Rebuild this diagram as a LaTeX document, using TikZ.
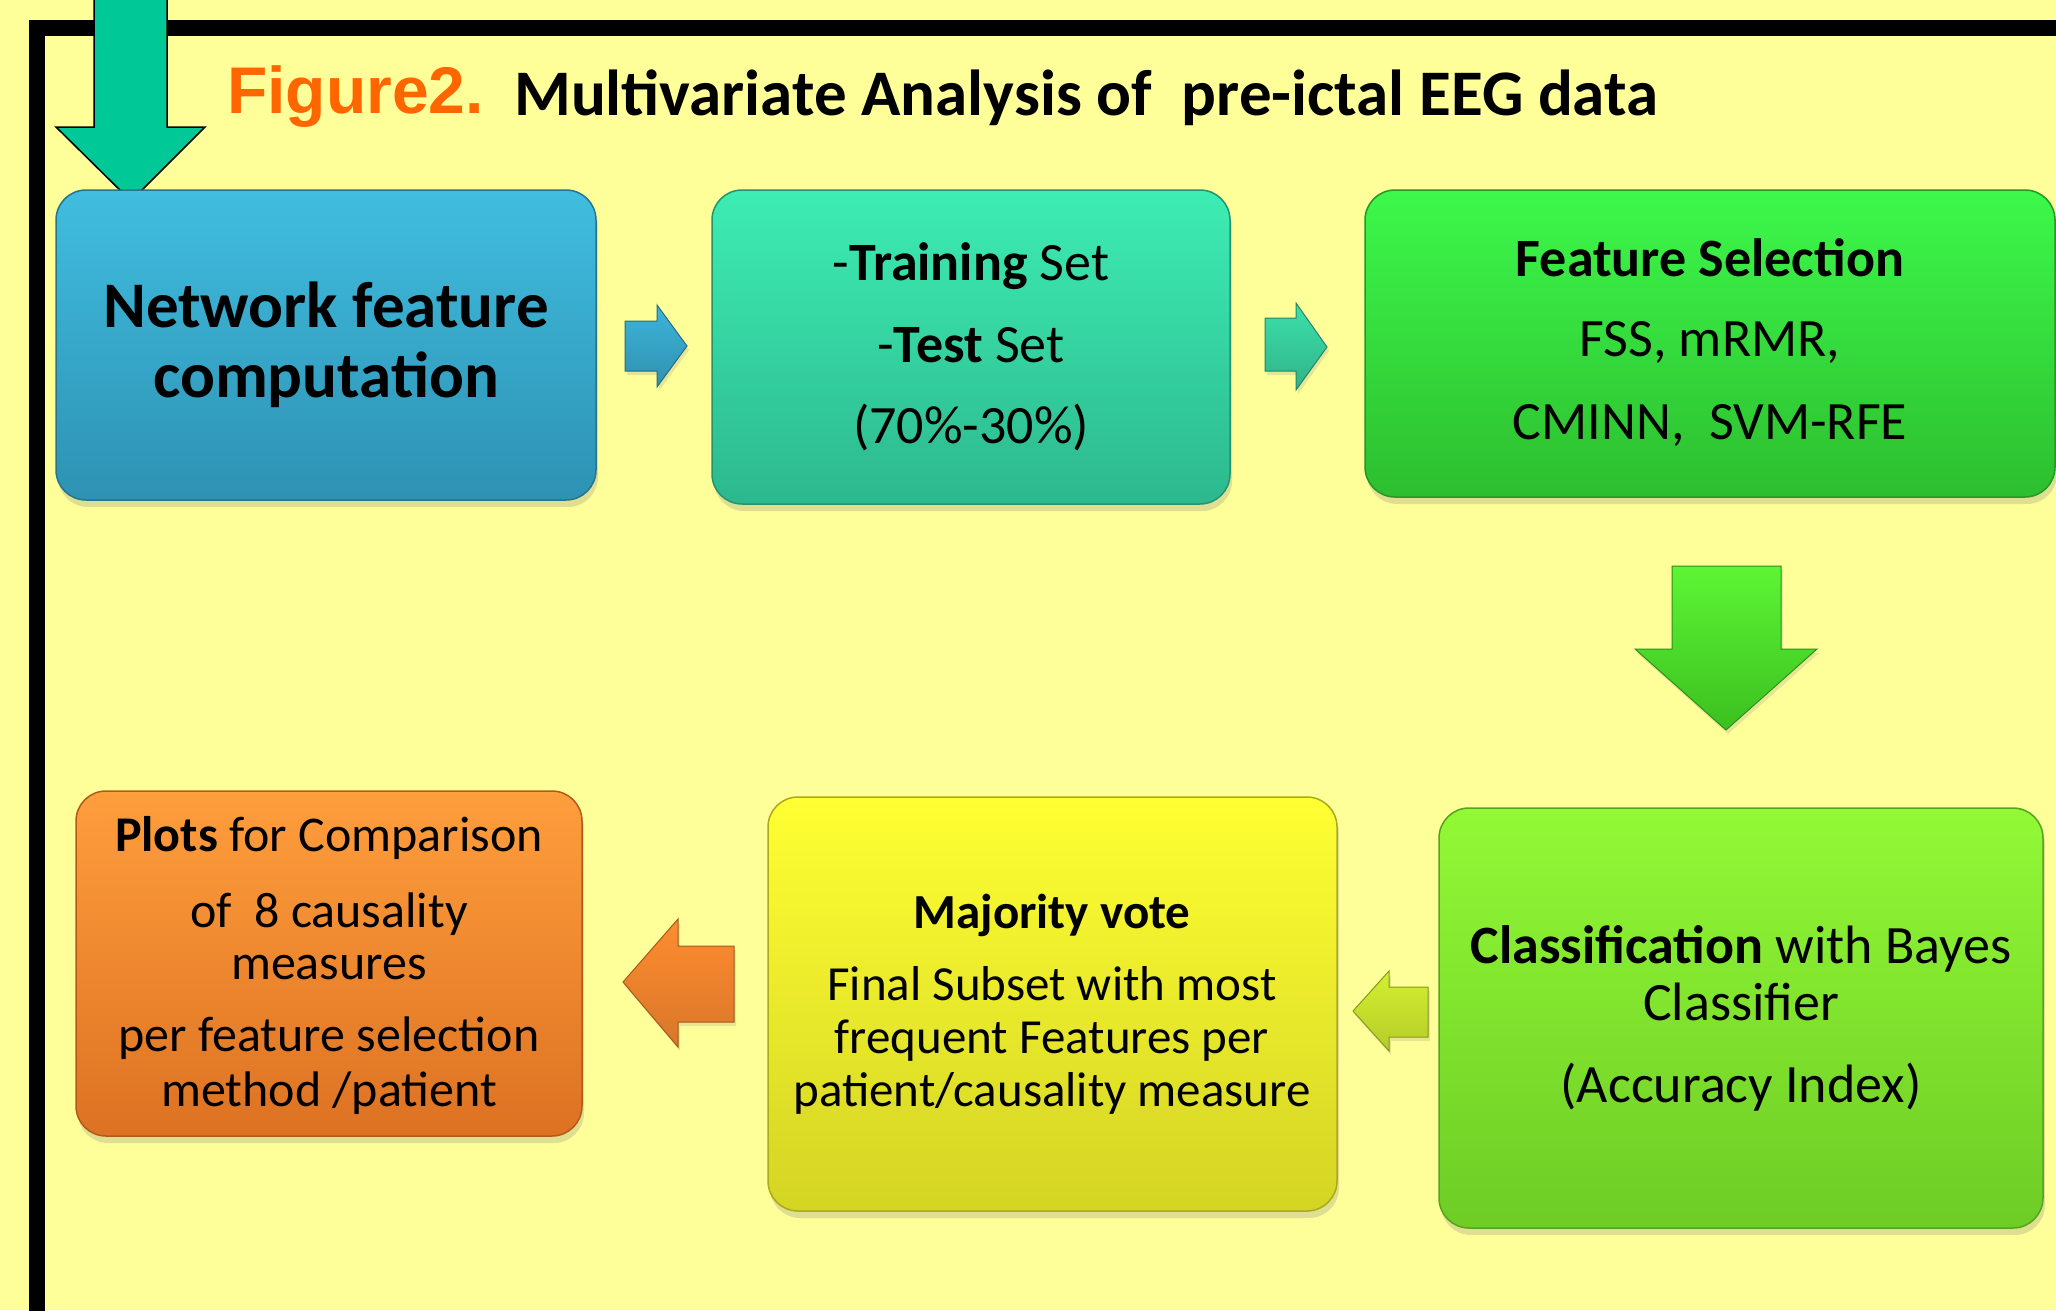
\documentclass[tikz,border=0pt]{standalone}
\usepackage{fontspec}
\usetikzlibrary{shadows}
\newfontfamily\calfont{Carlito}
\newfontfamily\arlfont{Liberation Sans}
\definecolor{bg}{HTML}{FFFF99}
\definecolor{figorange}{HTML}{FF6600}
\definecolor{bigarrow}{HTML}{00C896}
\definecolor{b1t}{HTML}{40BDE0}\definecolor{b1b}{HTML}{2E92B3}
\definecolor{b2t}{HTML}{3DEDB2}\definecolor{b2b}{HTML}{2DB88E}
\definecolor{b3t}{HTML}{3DF84A}\definecolor{b3b}{HTML}{2DBE2F}
\definecolor{b5t}{HTML}{92F936}\definecolor{b5b}{HTML}{6ECC25}
\definecolor{b4t}{HTML}{FFFF33}\definecolor{b4b}{HTML}{D4D424}
\definecolor{b6t}{HTML}{FF9E3D}\definecolor{b6b}{HTML}{DD7222}
\definecolor{a1c}{HTML}{3CB5DA}\definecolor{a2c}{HTML}{3CE0AA}
\definecolor{a3t}{HTML}{5DF535}\definecolor{a3b}{HTML}{3CC020}
\definecolor{a4c}{HTML}{D4F030}\definecolor{a5c}{HTML}{FF8C30}
\tikzset{
  box/.style 2 args={rounded corners=30pt, top color=#1, bottom color=#2,
    draw=#2!80!black, line width=1.5pt, inner sep=0pt,
    drop shadow={shadow xshift=2pt, shadow yshift=-7pt, opacity=0.25}},
  txt/.style={anchor=base, inner sep=0pt, text=black},
  blockarrow/.style 2 args={top color=#1, bottom color=#2, draw=#2!75!black, line width=1pt,
    drop shadow={shadow xshift=2pt, shadow yshift=-4pt, opacity=0.2}},
}
\begin{document}
\begin{tikzpicture}[x=1pt,y=-1pt]
\fill[bg] (0,0) rectangle (2056,1310);
\useasboundingbox (0,0) rectangle (2056,1310);
\clip (0,0) rectangle (2056,1310);
% frame
\draw[line width=16pt] (37,1400) -- (37,28) -- (2100,28);
% big entry arrow
\draw[fill=bigarrow, line width=1.5pt, line join=miter]
  (94,-10) -- (94,127) -- (56,127) -- (131,201) -- (205,127) -- (167,127) -- (167,-10);
% title
\node[txt, anchor=base west] (fig) at (227,113) {\arlfont\bfseries\fontsize{66}{76}\selectfont\color{figorange}Figure2.};
\node[txt, anchor=base west] (title) at (514,115) {\calfont\bfseries\fontsize{65}{72}\selectfont Multivariate Analysis of \ pre-ictal EEG data};
% boxes
\node[box={b1t}{b1b}, minimum width=540pt, minimum height=310pt] (b1) at (326,345) {};
\node[box={b2t}{b2b}, minimum width=518pt, minimum height=314pt] (b2) at (971,347) {};
\node[box={b3t}{b3b}, minimum width=690pt, minimum height=307pt] (b3) at (1710,343.5) {};
\node[box={b5t}{b5b}, minimum width=604pt, minimum height=420pt] (b5) at (1741,1018) {};
\node[box={b4t}{b4b}, minimum width=569pt, minimum height=414pt] (b4) at (1052.5,1004) {};
\node[box={b6t}{b6b}, minimum width=506pt, minimum height=345pt] (b6) at (329,963.5) {};
% box texts
\begin{scope}[every node/.append style={font=\calfont}]
\node[txt] (t1a) at (326,327) {\fontsize{65}{70}\selectfont\bfseries Network feature};
\node[txt] (t1b) at (326,397) {\fontsize{65}{70}\selectfont\bfseries computation};
\node[txt] (t2a) at (971,280) {\fontsize{54}{60}\selectfont -\textbf{Training} Set};
\node[txt] (t2b) at (971,362) {\fontsize{54}{60}\selectfont -\textbf{Test} Set};
\node[txt] (t2c) at (971,443) {\fontsize{54}{60}\selectfont (70\%-30\%)};
\node[txt] (t3a) at (1710,276) {\fontsize{54}{60}\selectfont\bfseries Feature Selection};
\node[txt] (t3b) at (1710,356) {\fontsize{54}{60}\selectfont FSS, mRMR,};
\node[txt] (t3c) at (1710,439) {\fontsize{54}{60}\selectfont CMINN, \ SVM-RFE};
\node[txt] (t5a) at (1741,963) {\fontsize{54}{60}\selectfont\textbf{Classification} with Bayes};
\node[txt] (t5b) at (1741,1020) {\fontsize{54}{60}\selectfont Classifier};
\node[txt] (t5c) at (1741,1102) {\fontsize{54}{60}\selectfont (Accuracy Index)};
\node[txt] (t4a) at (1052,928) {\fontsize{49}{56}\selectfont\bfseries Majority vote};
\node[txt] (t4b) at (1052,1000) {\fontsize{49}{56}\selectfont Final Subset with most};
\node[txt] (t4c) at (1052,1053) {\fontsize{49}{56}\selectfont frequent Features per};
\node[txt] (t4d) at (1052,1106) {\fontsize{49}{56}\selectfont patient/causality measure};
\node[txt] (t6a) at (329,851) {\fontsize{50}{56}\selectfont\textbf{Plots} for Comparison};
\node[txt] (t6b) at (329,927) {\fontsize{50}{56}\selectfont of \ 8 causality};
\node[txt] (t6c) at (329,979) {\fontsize{50}{56}\selectfont measures};
\node[txt] (t6d) at (329,1051) {\fontsize{50}{56}\selectfont per feature selection};
\node[txt] (t6e) at (329,1106) {\fontsize{50}{56}\selectfont method /patient};
\end{scope}
% block arrows
\path[blockarrow={a1c}{a1c!80!black}] (625,321) -- (657,321) -- (657,305) -- (687,346) -- (657,387) -- (657,371) -- (625,371) -- cycle;
\path[blockarrow={a2c}{a2c!80!black}] (1265,318) -- (1296,318) -- (1296,303) -- (1327,347) -- (1296,390) -- (1296,371) -- (1265,371) -- cycle;
\path[blockarrow={a3t}{a3b}] (1672,566) -- (1781,566) -- (1781,649) -- (1817,649) -- (1726,730) -- (1635,649) -- (1672,649) -- cycle;
\path[blockarrow={a4c}{a4c!85!black}] (1428,987) -- (1389,987) -- (1389,971) -- (1353,1011) -- (1389,1051) -- (1389,1037) -- (1428,1037) -- cycle;
\path[blockarrow={a5c}{a5c!85!black}] (734,946) -- (678,946) -- (678,919) -- (623,982) -- (678,1047) -- (678,1022) -- (734,1022) -- cycle;
\end{tikzpicture}
\end{document}
